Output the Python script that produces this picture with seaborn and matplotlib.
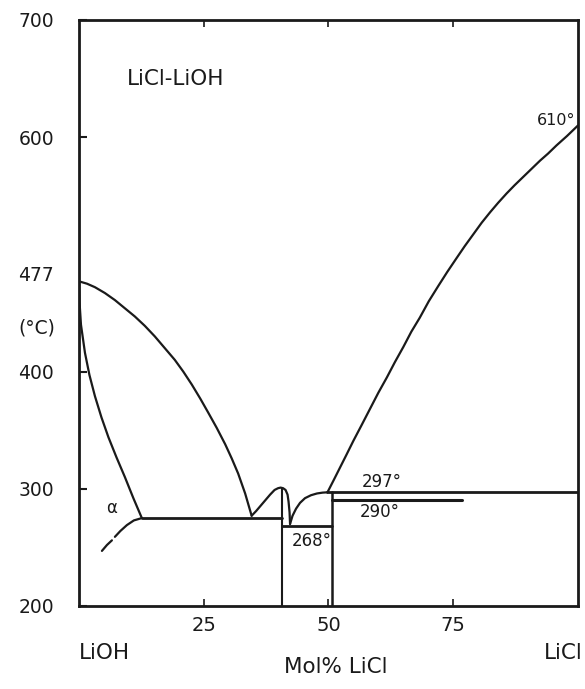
import matplotlib
matplotlib.use("Agg")
import matplotlib.pyplot as plt
import matplotlib.transforms as mtransforms
import seaborn as sns
import pandas as pd

# ---------------- data ----------------
liq_left_x = [0, 1.6, 3.2, 5.2, 7.2, 9.2, 11.2, 13.2, 15.2, 17.2, 19.2, 20.9,
              22.6, 24.3, 25.9, 27.6, 29.3, 30.6, 31.9, 33.3, 34.6]
liq_left_t = [477, 475, 472, 467, 461, 454, 447, 439, 430, 420, 410, 400,
              389, 377, 365, 352, 338, 326, 313, 296, 277]

solvus_x = [0, 0.1, 0.4, 1.2, 2.1, 3.2, 4.5, 5.9, 7.5, 9.2, 10.9, 12.6]
solvus_t = [477, 460, 440, 416, 397, 379, 361, 344, 327, 310, 292, 275]

alpha_solid_x = [12.6, 11.0, 9.6, 8.3, 7.2]
alpha_solid_t = [275, 273, 269, 264, 259]
alpha_dash_x = [6.6, 5.6, 4.6]
alpha_dash_t = [256, 252, 247]

hump_x = [34.6, 35.5, 36.3, 37.3, 38.3, 39.2, 39.9, 40.4, 40.9, 41.4, 41.8,
          42.0, 42.2, 42.3]
hump_t = [277, 281, 285, 290, 295, 299, 300.5, 301, 300.5, 299, 295,
          289, 280, 270]

liq_mid_x = [42.3, 42.8, 43.5, 44.3, 45.3, 46.5, 47.7, 48.8, 49.8]
liq_mid_t = [270, 277, 283, 288, 292, 294.5, 296, 296.7, 297]

liq_right_x = [49.8, 51.0, 52.3, 53.6, 55.0, 56.6, 58.3, 60.0, 61.7, 63.3,
               65.0, 66.6, 68.3, 70.1, 72.0, 73.8, 75.7, 77.3, 79.0, 80.7,
               82.4, 84.0, 85.7, 87.3, 89.0, 90.7, 92.4, 94.0, 95.7, 97.8, 100]
liq_right_t = [297, 307, 318, 329, 341, 354, 368, 382, 395, 408,
               421, 434, 446, 460, 473, 485, 497, 507, 517, 527,
               536, 544, 552, 559, 566, 573, 580, 586, 593, 601, 610]

# invariant (horizontal) lines
eut1_x = [12.6, 40.7]
eut1_t = [275, 275]
eut2_x = [40.7, 50.7]
eut2_t = [268, 268]
per_x = [49.8, 100]
per_t = [297, 297]
trans_x = [50.7, 76.8]
trans_t = [290, 290]

# compound (vertical) lines
vert1_x = [40.7, 40.7]
vert1_t = [200, 301]
vert2_x = [50.7, 50.7]
vert2_t = [200, 297]

ytick_vals = [200, 300, 400, 477, 600, 700]
ytick_labels = ["200", "300", "400", "477", "600", "700"]
xtick_vals = [25, 50, 75]
xtick_labels = ["25", "50", "75"]

# ---------------- plotting ----------------
sns.set_style("ticks")
plt.rcParams["font.family"] = ["DejaVu Sans"]

fig = plt.figure(figsize=(5.85, 6.89), dpi=100)
ax = fig.add_axes([0.135, 0.1205, 0.853, 0.8505])
tc = "#1a1a1a"


def curve(xs, ts, lw=1.6, **kw):
    df = pd.DataFrame({"x": xs, "t": ts})
    sns.lineplot(data=df, x="x", y="t", sort=False, estimator=None,
                 color=tc, linewidth=lw, ax=ax, **kw)


curve(liq_left_x, liq_left_t)
curve(solvus_x, solvus_t)
curve(alpha_solid_x, alpha_solid_t)
curve(alpha_dash_x, alpha_dash_t)
curve(hump_x, hump_t)
curve(liq_mid_x, liq_mid_t)
curve(liq_right_x, liq_right_t)
curve(eut1_x, eut1_t, lw=2.0)
curve(eut2_x, eut2_t, lw=2.0)
curve(per_x, per_t, lw=2.0)
curve(trans_x, trans_t, lw=2.2)
curve(vert1_x, vert1_t, lw=1.5)
curve(vert2_x, vert2_t, lw=1.8)

ax.set_xlim(0, 100)
ax.set_ylim(200, 700)
ax.set_xlabel("")
ax.set_ylabel("")

for s in ax.spines.values():
    s.set_visible(True)
    s.set_linewidth(2.0)
    s.set_color(tc)

ax.set_yticks(ytick_vals)
ax.set_yticklabels(ytick_labels)
ax.set_xticks(xtick_vals)
ax.set_xticklabels(xtick_labels)
ax.tick_params(axis="y", direction="in", length=6, width=1.5, pad=18,
               labelsize=13.5, colors=tc, right=False)
ax.tick_params(axis="x", direction="in", length=5, width=1.2, pad=7,
               labelsize=14, colors=tc, top=True)
# no tick mark at the 477 label, and its label sits slightly higher
t477 = ax.yaxis.get_major_ticks()[3]
t477.tick1line.set_visible(False)
lab = t477.label1
lab.set_transform(lab.get_transform() +
                  mtransforms.ScaledTranslation(0, 8 / 100, fig.dpi_scale_trans))

trans = mtransforms.blended_transform_factory(ax.transAxes, ax.transData)
ax.text(-0.048, 437, "(°C)", transform=trans, ha="right", va="center",
        fontsize=13.5, color=tc)

ax.text(9.6, 650, "LiCl-LiOH", ha="left", va="center", fontsize=15.5, color=tc)
ax.text(99.4, 614, "610°", ha="right", va="center", fontsize=11.5, color=tc)
ax.text(60.7, 306, "297°", ha="center", va="center", fontsize=12, color=tc)
ax.text(60.3, 280, "290°", ha="center", va="center", fontsize=12, color=tc)
ax.text(46.7, 255.5, "268°", ha="center", va="center", fontsize=12, color=tc)
ax.text(6.6, 284, "α", ha="center", va="center", fontsize=12, color=tc)

ax.text(0.0, -0.063, "LiOH", transform=ax.transAxes, ha="left", va="top",
        fontsize=15.5, color=tc)
ax.text(1.01, -0.063, "LiCl", transform=ax.transAxes, ha="right", va="top",
        fontsize=15.5, color=tc)
ax.text(0.515, -0.087, "Mol% LiCl", transform=ax.transAxes, ha="center",
        va="top", fontsize=15.5, color=tc)

fig.savefig("out.png", dpi=100, facecolor="white")
